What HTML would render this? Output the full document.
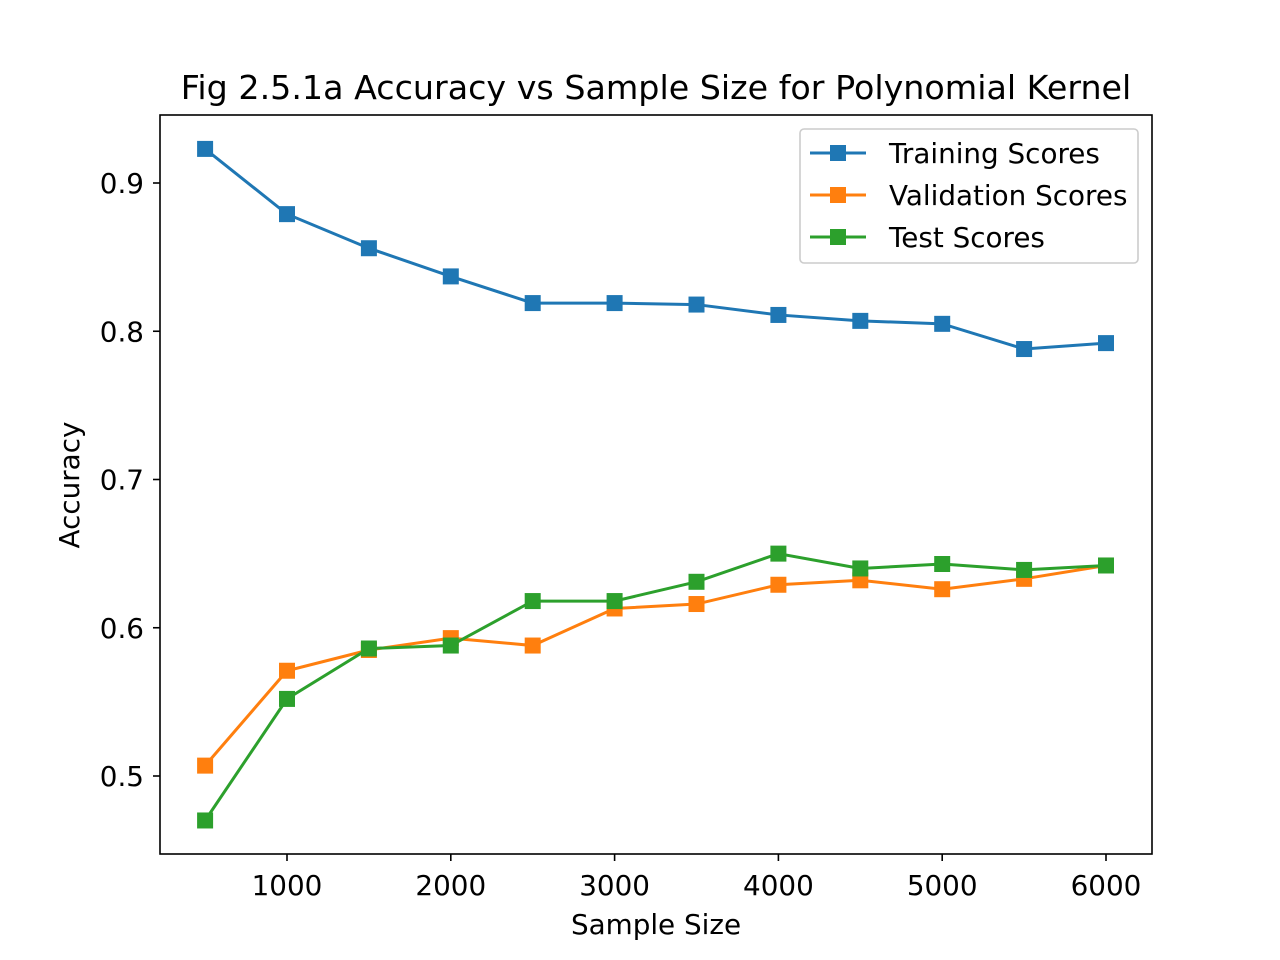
<!DOCTYPE html>
<html><head><meta charset="utf-8"><style>body{margin:0;background:#fff}svg{display:block;font-family:"DejaVu Sans","Liberation Sans",sans-serif}</style></head>
<body>
<svg id="chart" width="1280" height="960">
<rect width="1280" height="960" fill="#fff"/>
<text x="656" y="99" style="font-size:33.3px" text-anchor="middle">Fig 2.5.1a Accuracy vs Sample Size for Polynomial Kernel</text>
<g id="marks"></g>
<rect x="160" y="115" width="992" height="739" fill="none" stroke="#000" stroke-width="1.6"/>
<g id="axes"></g>
<text x="656" y="934" style="font-size:27.8px" text-anchor="middle">Sample Size</text>
<text transform="translate(79,485) rotate(-90)" style="font-size:27.8px" text-anchor="middle">Accuracy</text>
<g>
<rect x="800" y="129" width="338" height="134" rx="4" fill="#fff" stroke="#ccc" stroke-width="1.6"/>
<g id="legend-items"></g>
</g>
</svg>
<script>
const xs=[500,1000,1500,2000,2500,3000,3500,4000,4500,5000,5500,6000];
const training=[0.923,0.879,0.856,0.837,0.819,0.819,0.818,0.811,0.807,0.805,0.788,0.792];
const validation=[0.507,0.571,0.585,0.593,0.588,0.613,0.616,0.629,0.632,0.626,0.633,0.642];
const test=[0.470,0.552,0.586,0.588,0.618,0.618,0.631,0.650,0.640,0.643,0.639,0.642];
const xTicks=[1000,2000,3000,4000,5000,6000];
const yTicks=[0.5,0.6,0.7,0.8,0.9];
const seriesNames=["Training Scores","Validation Scores","Test Scores"];
const X=v=>287+(v-1000)*0.1638;
const Y=v=>776-(v-0.5)*1482.5;
const NS="http://www.w3.org/2000/svg";
function mk(t,a,p){const e=document.createElementNS(NS,t);for(const k in a)e.setAttribute(k,a[k]);p.appendChild(e);return e;}
const axes=document.getElementById('axes');
xTicks.forEach(t=>{const x=X(t);
const l=mk('line',{x1:x,x2:x,y1:854,y2:861,stroke:'#000','stroke-width':1.6},axes);

const tx=mk('text',{x:x,y:895,style:'font-size:27.8px','text-anchor':'middle'},axes);tx.textContent=t;
});
yTicks.forEach(t=>{const y=Y(t);
const l=mk('line',{x1:153,x2:160,y1:y,y2:y,stroke:'#000','stroke-width':1.6},axes);

const tx=mk('text',{x:144,y:y+10,style:'font-size:27.8px','text-anchor':'end'},axes);tx.textContent=t.toFixed(1);
});
const colors=['#1f77b4','#ff7f0e','#2ca02c'];
const marks=document.getElementById('marks');
[training,validation,test].forEach((s,i)=>{
const g=mk('g',{},marks);
const pl=mk('polyline',{points:s.map((v,j)=>X(xs[j])+','+Y(v)).join(' '),fill:'none',stroke:colors[i],'stroke-width':3},g);

s.forEach((v,j)=>{const r=mk('rect',{x:X(xs[j])-8,y:Y(v)-8,width:16,height:16,fill:colors[i]},g);
});});
const li=document.getElementById('legend-items');
seriesNames.forEach((n,i)=>{const y=153+i*42;
const g=mk('g',{},li);
mk('line',{x1:810,x2:866,y1:y,y2:y,stroke:colors[i],'stroke-width':3},g);
mk('rect',{x:830,y:y-8,width:16,height:16,fill:colors[i]},g);
const t=mk('text',{x:889,y:y+10,style:'font-size:27.8px'},g);t.textContent=n;});
</script>
</body></html>
